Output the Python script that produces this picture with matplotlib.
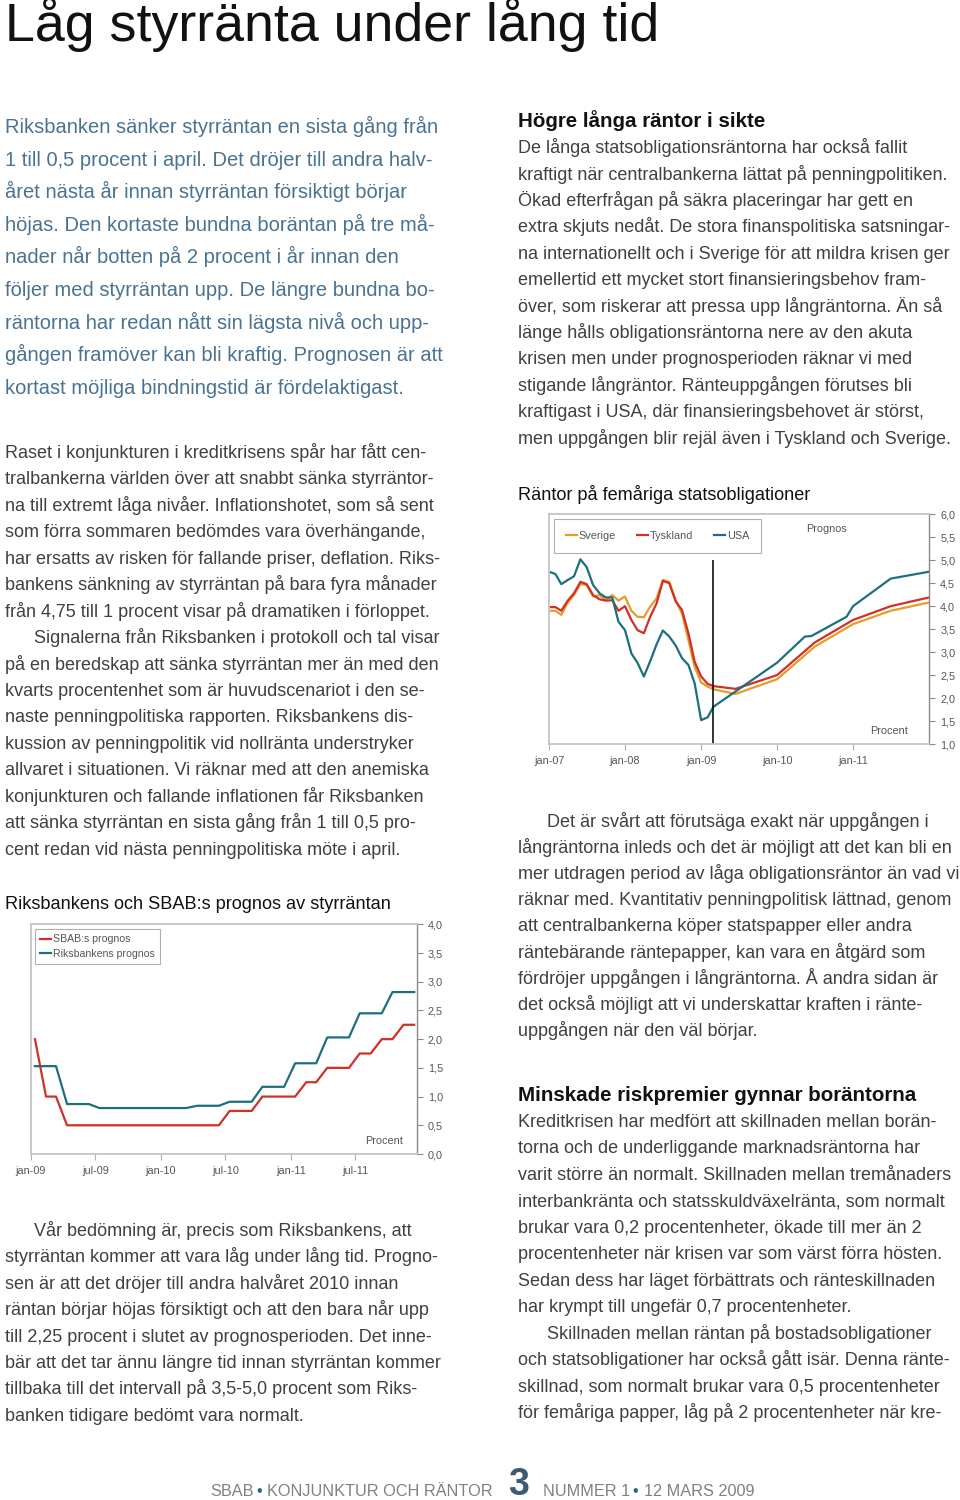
import matplotlib
matplotlib.use('Agg')
import matplotlib.pyplot as plt
from matplotlib.ticker import FuncFormatter, MultipleLocator
import pandas as pd

plt.rcParams['font.family'] = ['Liberation Sans', 'DejaVu Sans']

W, H = 960, 1500

# ---- Riksbankens och SBAB:s prognos av styrräntan (monthly, mid-month)
styr_dates = pd.date_range('2009-01-01', periods=36, freq='MS') + pd.Timedelta(days=12)
sbab_prognos = [2.0, 1.0, 1.0, 0.5, 0.5, 0.5, 0.5, 0.5, 0.5, 0.5, 0.5, 0.5,
                0.5, 0.5, 0.5, 0.5, 0.5, 0.5, 0.75, 0.75, 0.75, 1.0, 1.0, 1.0,
                1.0, 1.25, 1.25, 1.5, 1.5, 1.5, 1.75, 1.75, 2.0, 2.0, 2.25, 2.25]
riksbank_prognos = [1.53, 1.53, 1.53, 0.87, 0.87, 0.87, 0.80, 0.80, 0.80, 0.80, 0.80, 0.80,
                    0.80, 0.80, 0.80, 0.84, 0.84, 0.84, 0.91, 0.91, 0.91, 1.17, 1.17, 1.17,
                    1.58, 1.58, 1.58, 2.03, 2.03, 2.03, 2.45, 2.45, 2.45, 2.82, 2.82, 2.82]
styr_tick_dates = ['2009-01-01', '2009-07-01', '2010-01-01', '2010-07-01', '2011-01-01', '2011-07-01']
styr_tick_labels = ['jan-09', 'jul-09', 'jan-10', 'jul-10', 'jan-11', 'jul-11']

# ---- Räntor på femåriga statsobligationer
bond_dates = pd.date_range('2007-01-01', '2009-03-01', freq='MS')
sverige = [3.90, 3.90, 3.81, 4.08, 4.24, 4.48, 4.46, 4.21, 4.24, 4.13, 4.24, 4.12, 4.21, 3.90,
           3.77, 3.76, 3.99, 4.17, 4.57, 4.53, 4.13, 3.84, 3.26, 2.68, 2.34, 2.25, 2.19]
tyskland = [3.98, 3.98, 3.90, 4.12, 4.28, 4.53, 4.48, 4.24, 4.15, 4.12, 4.13, 3.90, 4.00, 3.70,
            3.48, 3.41, 3.77, 4.06, 4.55, 4.50, 4.10, 3.92, 3.41, 2.79, 2.47, 2.31, 2.26]
usa = [4.75, 4.70, 4.48, 4.57, 4.65, 5.02, 4.85, 4.46, 4.28, 4.19, 4.19, 3.66, 3.48, 2.97,
       2.77, 2.47, 2.80, 3.17, 3.47, 3.34, 3.14, 2.87, 2.72, 2.32, 1.52, 1.58, 1.81]
eu_prog_dates = pd.to_datetime(['2009-03-01', '2009-06-15', '2010-01-01', '2010-07-01',
                                '2011-01-01', '2011-07-01', '2012-01-01'])
sverige_prog = [2.19, 2.09, 2.41, 3.12, 3.61, 3.90, 4.08]
tyskland_prog = [2.26, 2.20, 2.50, 3.21, 3.70, 4.00, 4.19]
usa_prog_dates = pd.to_datetime(['2009-03-01', '2010-01-01', '2010-05-15', '2010-06-15',
                                 '2010-12-01', '2011-01-01', '2011-07-01', '2012-01-01'])
usa_prog = [1.81, 2.77, 3.34, 3.35, 3.77, 4.00, 4.60, 4.75]
prognos_start = pd.Timestamp('2009-03-01')
bond_tick_dates = ['2007-01-01', '2008-01-01', '2009-01-01', '2010-01-01', '2011-01-01']
bond_tick_labels = ['jan-07', 'jan-08', 'jan-09', 'jan-10', 'jan-11']

# ---- page text
title = 'Låg styrränta under lång tid'
lead = [
    'Riksbanken sänker styrräntan en sista gång från',
    '1 till 0,5 procent i april. Det dröjer till andra halv-',
    'året nästa år innan styrräntan försiktigt börjar',
    'höjas. Den kortaste bundna boräntan på tre må-',
    'nader når botten på 2 procent i år innan den',
    'följer med styrräntan upp. De längre bundna bo-',
    'räntorna har redan nått sin lägsta nivå och upp-',
    'gången framöver kan bli kraftig. Prognosen är att',
    'kortast möjliga bindningstid är fördelaktigast.',
]
left_body = [
    'Raset i konjunkturen i kreditkrisens spår har fått cen-',
    'tralbankerna världen över att snabbt sänka styrräntor-',
    'na till extremt låga nivåer. Inflationshotet, som så sent',
    'som förra sommaren bedömdes vara överhängande,',
    'har ersatts av risken för fallande priser, deflation. Riks-',
    'bankens sänkning av styrräntan på bara fyra månader',
    'från 4,75 till 1 procent visar på dramatiken i förloppet.',
    '\tSignalerna från Riksbanken i protokoll och tal visar',
    'på en beredskap att sänka styrräntan mer än med den',
    'kvarts procentenhet som är huvudscenariot i den se-',
    'naste penningpolitiska rapporten. Riksbankens dis-',
    'kussion av penningpolitik vid nollränta understryker',
    'allvaret i situationen. Vi räknar med att den anemiska',
    'konjunkturen och fallande inflationen får Riksbanken',
    'att sänka styrräntan en sista gång från 1 till 0,5 pro-',
    'cent redan vid nästa penningpolitiska möte i april.',
]
left_after = [
    '\tVår bedömning är, precis som Riksbankens, att',
    'styrräntan kommer att vara låg under lång tid. Progno-',
    'sen är att det dröjer till andra halvåret 2010 innan',
    'räntan börjar höjas försiktigt och att den bara når upp',
    'till 2,25 procent i slutet av prognosperioden. Det inne-',
    'bär att det tar ännu längre tid innan styrräntan kommer',
    'tillbaka till det intervall på 3,5-5,0 procent som Riks-',
    'banken tidigare bedömt vara normalt.',
]
right_head1 = 'Högre långa räntor i sikte'
right_body1 = [
    'De långa statsobligationsräntorna har också fallit',
    'kraftigt när centralbankerna lättat på penningpolitiken.',
    'Ökad efterfrågan på säkra placeringar har gett en',
    'extra skjuts nedåt. De stora finanspolitiska satsningar-',
    'na internationellt och i Sverige för att mildra krisen ger',
    'emellertid ett mycket stort finansieringsbehov fram-',
    'över, som riskerar att pressa upp långräntorna. Än så',
    'länge hålls obligationsräntorna nere av den akuta',
    'krisen men under prognosperioden räknar vi med',
    'stigande långräntor. Ränteuppgången förutses bli',
    'kraftigast i USA, där finansieringsbehovet är störst,',
    'men uppgången blir rejäl även i Tyskland och Sverige.',
]
right_body2 = [
    '\tDet är svårt att förutsäga exakt när uppgången i',
    'långräntorna inleds och det är möjligt att det kan bli en',
    'mer utdragen period av låga obligationsräntor än vad vi',
    'räknar med. Kvantitativ penningpolitisk lättnad, genom',
    'att centralbankerna köper statspapper eller andra',
    'räntebärande räntepapper, kan vara en åtgärd som',
    'fördröjer uppgången i långräntorna. Å andra sidan är',
    'det också möjligt att vi underskattar kraften i ränte-',
    'uppgången när den väl börjar.',
]
right_head3 = 'Minskade riskpremier gynnar boräntorna'
right_body3 = [
    'Kreditkrisen har medfört att skillnaden mellan borän-',
    'torna och de underliggande marknadsräntorna har',
    'varit större än normalt. Skillnaden mellan tremånaders',
    'interbankränta och statsskuldväxelränta, som normalt',
    'brukar vara 0,2 procentenheter, ökade till mer än 2',
    'procentenheter när krisen var som värst förra hösten.',
    'Sedan dess har läget förbättrats och ränteskillnaden',
    'har krympt till ungefär 0,7 procentenheter.',
    '\tSkillnaden mellan räntan på bostadsobligationer',
    'och statsobligationer har också gått isär. Denna ränte-',
    'skillnad, som normalt brukar vara 0,5 procentenheter',
    'för femåriga papper, låg på 2 procentenheter när kre-',
]

BODY = '#404040'
LEAD = '#4a7291'
RED = '#d22f28'
TEAL = '#1d6f7f'
ORANGE = '#e89c25'
BODY_SIZE = 13.0

fig = plt.figure(figsize=(W / 100, H / 100), dpi=100)


def put(x, y, s, **kw):
    kw.setdefault('va', 'baseline')
    return fig.text(x / W, 1 - y / H, s, **kw)


def block(lines, x, y0, step, size, color, indent=29, **kw):
    for i, s in enumerate(lines):
        dx = indent if s.startswith('\t') else 0
        put(x + dx, y0 + i * step, s.lstrip('\t'), fontsize=size, color=color, **kw)


def px_axes(x0, y0, x1, y1):
    return fig.add_axes([x0 / W, 1 - y1 / H, (x1 - x0) / W, (y1 - y0) / H])


comma = FuncFormatter(lambda v, p: f'{v:.1f}'.replace('.', ','))


def style(ax):
    for side in ['top', 'left', 'bottom']:
        ax.spines[side].set_color('#c4c4c4')
        ax.spines[side].set_linewidth(1.3)
    ax.spines['right'].set_color('#8a8a8a')
    ax.spines['right'].set_linewidth(1.0)
    ax.yaxis.tick_right()
    ax.yaxis.set_major_formatter(comma)
    ax.tick_params(axis='y', direction='out', length=4, width=0.8, color='#8a8a8a',
                   labelcolor='#555555', labelsize=7.8, pad=4)
    ax.tick_params(axis='x', direction='out', length=4, width=0.8, color='#b0b0b0',
                   labelcolor='#555555', labelsize=7.8, pad=5)


# ---- texts
put(5, 41, title, fontsize=38.7, color='#111111')
block(lead, 5, 133, 32.6, 14.5, LEAD)
block(left_body, 5, 458, 26.45, BODY_SIZE, BODY)
block(left_after, 5, 1236, 26.4, BODY_SIZE, BODY)
put(518, 127, right_head1, fontsize=14.8, color='#111111', fontweight='bold')
block(right_body1, 518, 153.3, 26.4, BODY_SIZE, BODY)
block(right_body2, 518, 826.5, 26.2, BODY_SIZE, BODY)
put(518, 1101, right_head3, fontsize=14.8, color='#111111', fontweight='bold')
block(right_body3, 518, 1126.7, 26.5, BODY_SIZE, BODY)

put(5, 909, 'Riksbankens och SBAB:s prognos av styrräntan', fontsize=13.1, color='#111111')
put(518, 500, 'Räntor på femåriga statsobligationer', fontsize=13.1, color='#111111')

# ---- styrräntan chart
ax1 = px_axes(30.7, 924.3, 416.7, 1154)
ax1.plot(styr_dates, sbab_prognos, color=RED, lw=1.6, label='SBAB:s prognos')
ax1.plot(styr_dates, riksbank_prognos, color=TEAL, lw=1.6, label='Riksbankens prognos')
ax1.set_ylim(0, 4)
ax1.yaxis.set_major_locator(MultipleLocator(0.5))
ax1.set_xlim(pd.Timestamp('2009-01-01'), pd.Timestamp('2011-12-20'))
ax1.set_xticks(pd.to_datetime(styr_tick_dates))
ax1.set_xticklabels(styr_tick_labels)
style(ax1)
ax1.text(0.965, 0.055, 'Procent', transform=ax1.transAxes, ha='right', va='center',
         fontsize=7.8, color='#555555')
leg1 = ax1.legend(loc='upper left', bbox_to_anchor=(35 / W, 1 - 929 / H),
                  bbox_transform=fig.transFigure, borderaxespad=0, fontsize=7.6,
                  handlelength=1.0, handletextpad=0.2, labelspacing=0.45,
                  fancybox=False, framealpha=1, edgecolor='#b0b0b0', borderpad=0.5)
leg1.get_frame().set_linewidth(0.8)
for t in leg1.get_texts():
    t.set_color('#555555')

# ---- femåriga chart
ax2 = px_axes(549, 514.3, 929, 744)
ax2.plot(bond_dates, sverige, color=ORANGE, lw=1.6, label='Sverige')
ax2.plot(bond_dates, tyskland, color=RED, lw=1.6, label='Tyskland')
ax2.plot(bond_dates, usa, color=TEAL, lw=1.6, label='USA')
ax2.plot(eu_prog_dates, sverige_prog, color=ORANGE, lw=1.6)
ax2.plot(eu_prog_dates, tyskland_prog, color=RED, lw=1.6)
ax2.plot(usa_prog_dates, usa_prog, color=TEAL, lw=1.6)
ax2.vlines(prognos_start, 1.0, 5.0, color='#111111', lw=1.2)
ax2.set_ylim(1, 6)
ax2.yaxis.set_major_locator(MultipleLocator(0.5))
ax2.set_xlim(pd.Timestamp('2007-01-01'), pd.Timestamp('2012-01-01'))
ax2.set_xticks(pd.to_datetime(bond_tick_dates))
ax2.set_xticklabels(bond_tick_labels)
style(ax2)
ax2.text(0.73, 0.935, 'Prognos', transform=ax2.transAxes, ha='center', va='center',
         fontsize=7.8, color='#555555')
ax2.text(0.945, 0.055, 'Procent', transform=ax2.transAxes, ha='right', va='center',
         fontsize=7.8, color='#555555')
leg2 = ax2.legend(loc='upper left', bbox_to_anchor=(554 / W, 1 - 519 / H),
                  bbox_transform=fig.transFigure, borderaxespad=0, fontsize=7.8, ncol=3,
                  handlelength=1.0, handletextpad=0.2, columnspacing=1.9,
                  fancybox=False, framealpha=1, edgecolor='#b0b0b0', borderpad=1.1)
leg2.get_frame().set_linewidth(0.8)
for t in leg2.get_texts():
    t.set_color('#555555')

# ---- footer
GRAY = '#808080'
put(210, 1496, 'SBAB', fontsize=11.7, color=GRAY)
put(259, 1496, '•', fontsize=11.7, color=TEAL, ha='center')
put(493, 1496, 'KONJUNKTUR OCH RÄNTOR', fontsize=11.7, color=GRAY, ha='right')
put(519, 1495, '3', fontsize=27, color='#3b5b72', fontweight='bold', ha='center')
put(543, 1496, 'NUMMER 1', fontsize=11.7, color=GRAY)
put(635, 1496, '•', fontsize=11.7, color=TEAL, ha='center')
put(755, 1496, '12 MARS 2009', fontsize=11.7, color=GRAY, ha='right')

fig.savefig('out.png', dpi=100)
